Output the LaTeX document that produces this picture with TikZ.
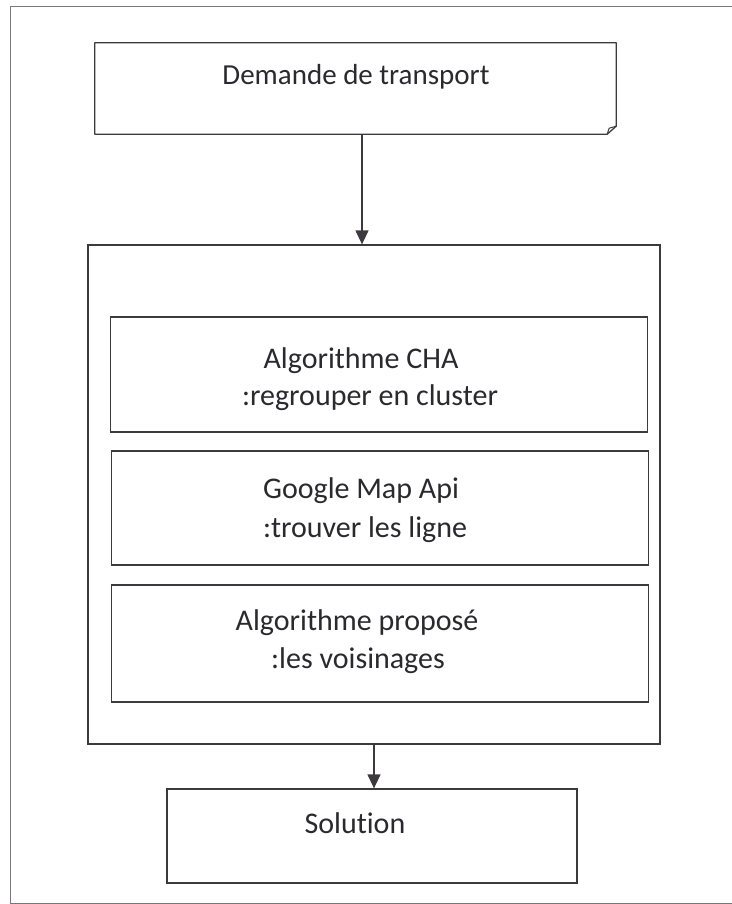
\documentclass[tikz,border=0pt]{standalone}
\usepackage{fontspec}
\setmainfont{Carlito}[Ligatures={NoCommon}]
\usetikzlibrary{arrows.meta}
\definecolor{ink}{HTML}{3C3A3E}
\definecolor{txt}{HTML}{2A2A2E}
\definecolor{framecol}{HTML}{7A767C}
\tikzset{
  box/.style={draw=ink, line width=1.3pt, inner sep=0pt, fill=white},
  lbl/.style={anchor=base, inner sep=0pt, text=txt, font=\fontsize{30}{36}\selectfont},
  toplbl/.style={anchor=base, inner sep=0pt, text=txt, font=\fontsize{29}{35}\selectfont},
  flow/.style={draw=ink, line width=1.3pt, -{Triangle[width=13pt,length=14pt]}},
  outerframe/.style={draw=framecol, line width=1pt},
}
\begin{document}
\begin{tikzpicture}[x=1pt,y=-1pt]
\useasboundingbox (0,0) rectangle (731,904);
% outer frame (right side beyond the picture)
\draw[outerframe] (745,7) -- (10,7) -- (10,903.5) -- (745,903.5);

% top box with small folded corner
\node[inner sep=0pt, minimum width=521pt, minimum height=91pt] (top) at (355.5,88.5) {};
\draw[ink, line width=1.3pt, line join=round]
  (top.north west) -- (top.north east) -- ([yshift=8pt]top.south east)
  -- ([xshift=-9pt]top.south east) -- (top.south west) -- cycle;
\draw[ink, line width=1pt, line join=round] ([xshift=-9pt]top.south east) -- ([xshift=-7pt,yshift=6pt]top.south east) -- ([yshift=8pt]top.south east);
\node[toplbl] (ttop) at (356,85) {Demande de transport};

% middle frame
\node[box, minimum width=572pt, minimum height=499pt] (mid) at (374,494.5) {};

% inner boxes
\node[box, minimum width=537pt, minimum height=115pt] (b1) at (379,374.5) {};
\node[box, minimum width=537pt, minimum height=114pt] (b2) at (380,508) {};
\node[box, minimum width=537pt, minimum height=117pt] (b3) at (380,643.5) {};

\node[lbl] (t1a) at (361,368) {Algorithme CHA};
\node[lbl] (t1b) at (370,405) {:regrouper en cluster};
\node[lbl] (t2a) at (361,498) {Google Map Api};
\node[lbl] (t2b) at (365,537) {:trouver les ligne};
\node[lbl] (t3a) at (357,630) {Algorithme proposé};
\node[lbl] (t3b) at (358,668) {:les voisinages};

% solution box
\node[box, minimum width=410pt, minimum height=94pt] (sol) at (372,836) {};
\node[lbl] (tsol) at (355,833) {Solution};

% connectors
\coordinate (a1x) at (362,0);
\draw[flow] (a1x |- top.south) -- (a1x |- mid.north);
\draw[flow] (mid.south) -- (mid.south |- sol.north);
\end{tikzpicture}
\end{document}
